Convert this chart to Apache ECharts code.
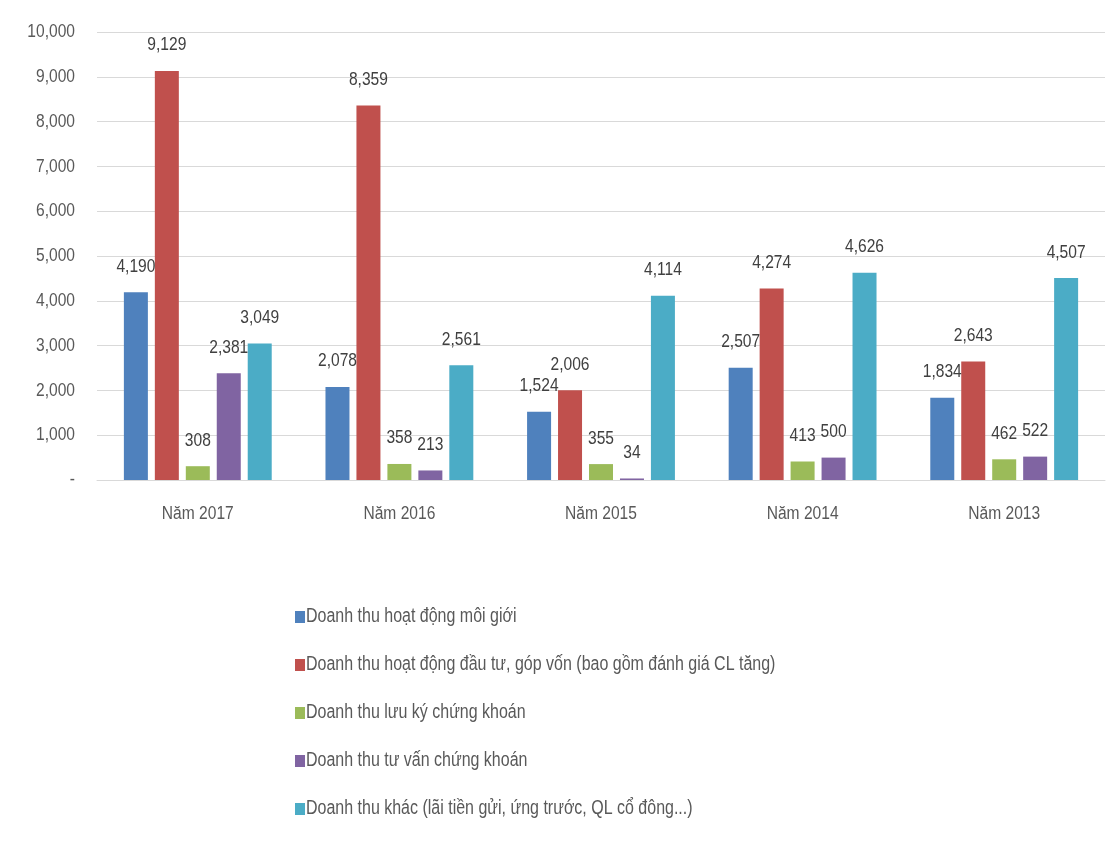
<!DOCTYPE html>
<html>
<head>
<meta charset="utf-8">
<script src="https://cdn.jsdelivr.net/npm/echarts@6/dist/echarts.min.js"></script>
<style>
html,body{margin:0;padding:0;background:#fff;}
#c{width:1115px;height:841px;}
</style>
</head>
<body>
<div id="c"></div>
<script>
var categories = ['Năm 2017', 'Năm 2016', 'Năm 2015', 'Năm 2014', 'Năm 2013'];
var seriesNames = [
  'Doanh thu hoạt động môi giới',
  'Doanh thu hoạt động đầu tư, góp vốn (bao gồm đánh giá CL tăng)',
  'Doanh thu lưu ký chứng khoán',
  'Doanh thu tư vấn chứng khoán',
  'Doanh thu khác (lãi tiền gửi, ứng trước, QL cổ đông...)'
];
var brokerage = [4190, 2078, 1524, 2507, 1834];
var investment = [9129, 8359, 2006, 4274, 2643];
var custody = [308, 358, 355, 413, 462];
var advisory = [2381, 213, 34, 500, 522];
var other = [3049, 2561, 4114, 4626, 4507];
var colors = ['#4F81BD', '#C0504D', '#9BBB59', '#8064A2', '#4BACC6'];
var yTicks = { min: 0, max: 10000, interval: 1000 };

// Narrow text rendering (emulates a condensed font such as Arial Narrow)
(function () {
  var SX = 0.82;
  var proto = CanvasRenderingContext2D.prototype;
  var oFill = proto.fillText, oStroke = proto.strokeText, oMeasure = proto.measureText;
  proto.fillText = function (t, x, y) {
    this.save(); this.translate(x, y); this.scale(SX, 1);
    oFill.call(this, t, 0, 0); this.restore();
  };
  proto.strokeText = function (t, x, y) {
    this.save(); this.translate(x, y); this.scale(SX, 1);
    oStroke.call(this, t, 0, 0); this.restore();
  };
  proto.measureText = function (t) {
    var m = oMeasure.call(this, t);
    return {
      width: m.width * SX,
      actualBoundingBoxLeft: m.actualBoundingBoxLeft * SX,
      actualBoundingBoxRight: m.actualBoundingBoxRight * SX,
      actualBoundingBoxAscent: m.actualBoundingBoxAscent,
      actualBoundingBoxDescent: m.actualBoundingBoxDescent,
      fontBoundingBoxAscent: m.fontBoundingBoxAscent,
      fontBoundingBoxDescent: m.fontBoundingBoxDescent
    };
  };
})();

var FONT = '"Liberation Sans", Arial, sans-serif';
function fmt(v) { return v === 0 ? '-' : v.toLocaleString('en-US'); }

var dataSets = [brokerage, investment, custody, advisory, other];
var series = dataSets.map(function (d, i) {
  return {
    name: seriesNames[i],
    type: 'bar',
    data: d,
    barWidth: 24,
    barGap: '29%',
    itemStyle: { color: colors[i] },
    label: {
      show: true,
      position: 'top',
      distance: 18,
      fontFamily: FONT,
      fontSize: 19,
      color: '#404040',
      formatter: function (p) { return fmt(p.value); }
    }
  };
});

var chart = echarts.init(document.getElementById('c'), null, { renderer: 'canvas' });
chart.setOption({
  backgroundColor: '#ffffff',
  animation: false,
  textStyle: { fontFamily: FONT },
  grid: { left: 97, right: 10, top: 32, bottom: 361, containLabel: false },
  xAxis: {
    type: 'category',
    data: categories,
    axisLine: { show: true, lineStyle: { color: '#d9d9d9', width: 1 } },
    axisTick: { show: false },
    axisLabel: { fontFamily: FONT, fontSize: 19, color: '#595959', margin: 26 }
  },
  yAxis: {
    type: 'value',
    min: yTicks.min,
    max: yTicks.max,
    interval: yTicks.interval,
    axisLine: { show: false },
    axisTick: { show: false },
    splitLine: { lineStyle: { color: '#d9d9d9', width: 1 } },
    axisLabel: { fontFamily: FONT, fontSize: 19, color: '#595959', margin: 22, formatter: fmt }
  },
  legend: {
    orient: 'vertical',
    left: 290,
    top: 601,
    itemGap: 26,
    itemWidth: 10,
    itemHeight: 12,
    icon: 'rect',
    textStyle: { fontFamily: FONT, fontSize: 19.5, lineHeight: 22, color: '#595959', padding: [0, 0, 0, -4] },
    data: seriesNames
  },
  series: series
});
</script>
</body>
</html>
